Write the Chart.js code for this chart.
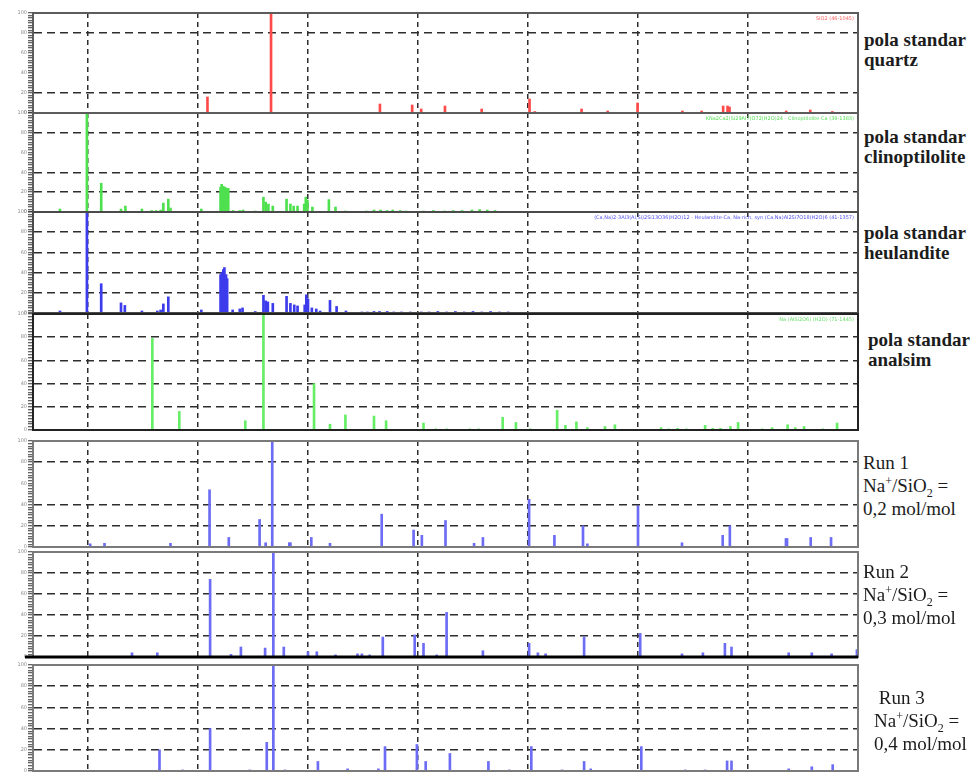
<!DOCTYPE html>
<html>
<head>
<meta charset="utf-8">
<script src="https://cdn.jsdelivr.net/npm/chart.js@4/dist/chart.umd.min.js"></script>
<style>
  html, body { margin: 0; padding: 0; background: #fff; }
  body { position: relative; width: 976px; height: 772px; overflow: hidden; }
  canvas { position: absolute; left: 0; }
  .lbl { position: absolute; font-family: "Liberation Serif", "DejaVu Serif", serif; color: #1c1c1c; white-space: nowrap; }
  .std { font-size: 19px; font-weight: bold; line-height: 20px; }
  .run { font-size: 19px; line-height: 23px; }
  .lbl sup, .lbl sub { font-size: 12px; line-height: 0; }
</style>
</head>
<body>

<canvas id="pQuartz" width="862" height="108" style="top:9px"></canvas>
<canvas id="pClino" width="862" height="107" style="top:109px"></canvas>
<canvas id="pHeul" width="862" height="109" style="top:208px"></canvas>
<canvas id="pAnal" width="862" height="124" style="top:310px"></canvas>
<canvas id="pRun1" width="862" height="114" style="top:437px"></canvas>
<canvas id="pRun2" width="862" height="113" style="top:548px"></canvas>
<canvas id="pRun3" width="862" height="114" style="top:661px"></canvas>

<div class="lbl std" style="left:864px;top:30px">pola standar<br>quartz</div>
<div class="lbl std" style="left:864px;top:127px">pola standar<br>clinoptilolite</div>
<div class="lbl std" style="left:864px;top:223px">pola standar<br>heulandite</div>
<div class="lbl std" style="left:868px;top:330px">pola standar<br>analsim</div>
<div class="lbl run" style="left:863px;top:451px">Run 1<br>Na<sup>+</sup>/SiO<sub>2</sub> =<br>0,2 mol/mol</div>
<div class="lbl run" style="left:863px;top:560px">Run 2<br>Na<sup>+</sup>/SiO<sub>2</sub> =<br>0,3 mol/mol</div>
<div class="lbl run" style="left:874px;top:686px">&nbsp;Run 3<br>Na<sup>+</sup>/SiO<sub>2</sub> =<br>0,4 mol/mol</div>

<script>
// 2-theta axis (degrees) and intensity axis (%)
const twoThetaMin = 5;
const twoThetaMax = 80;
const twoThetaGrid = [10, 20, 30, 40, 50, 60, 70];
const intensityLabels = [0, 20, 40, 60, 80, 100];

// Reference pattern: quartz
const quartzPos = [20.86, 26.64, 36.54, 39.47, 40.29, 42.45, 45.79, 50.14, 50.62, 54.87, 57.24, 59.96, 64.03, 65.79, 67.74, 68.14, 68.32, 73.47, 75.66, 77.67];
const quartzInt = [16, 100, 9, 8, 4, 7, 4, 14, 1.5, 4, 2, 10, 2, 2, 7, 7, 6, 2, 3, 1.5];

// Reference pattern: clinoptilolite
const clinoPos = [7.45, 9.9, 11.2, 13.0, 13.4, 14.9, 15.8, 16.2, 16.6, 16.85, 17.3, 17.5, 20.3, 22.05, 22.15, 22.3, 22.45, 22.6, 22.75, 23.2, 23.8, 24.1, 25.2, 25.95, 26.15, 26.4, 26.8, 28.05, 28.4, 28.7, 29.05, 29.65, 29.8, 29.95, 30.4, 31.9, 32.5, 33.4, 35.3, 36.0, 36.6, 37.2, 37.7, 38.4, 38.9, 40.5, 41.4, 42.4, 43.2, 44.0, 44.9, 45.6, 46.3, 47.0];
const clinoInt = [3, 100, 29, 3, 6, 3, 1.5, 1.5, 2, 9, 13, 4, 3, 25, 28, 26, 25, 24, 24, 1.5, 1.5, 2, 1, 15, 10, 8, 6, 13, 8, 6, 6, 8, 15, 12, 5, 12.5, 5, 1, 1, 2, 2, 1.5, 2, 1.5, 1, 1, 1.5, 1, 1.5, 1.5, 2, 2.5, 2, 1.5];

// Reference pattern: heulandite
const heulPos = [7.45, 9.9, 11.2, 13.0, 13.35, 14.9, 16.3, 16.6, 16.85, 17.3, 20.3, 22.05, 22.15, 22.3, 22.4, 22.55, 22.65, 23.15, 23.8, 24.05, 25.2, 25.95, 26.15, 26.35, 26.8, 28.05, 28.4, 28.75, 29.05, 29.7, 29.85, 30.0, 30.35, 30.75, 31.1, 32.0, 32.6, 33.45, 34.9, 35.4, 36.0, 36.5, 37.2, 37.8, 38.5, 39.3, 40.3, 41.0, 41.8, 42.6, 43.4, 44.2, 45.0, 45.8, 46.6, 47.4, 48.2];
const heulInt = [2, 100, 29, 10, 7.5, 2, 2, 3, 9, 16, 3, 38, 40, 43, 45, 38, 34, 3, 4, 5, 1.5, 17.5, 12, 11, 9.5, 16.5, 9.5, 8, 7, 8, 18, 14, 5, 4, 2, 12.5, 6.5, 2, 1, 1, 1.5, 1.5, 1.5, 1, 1, 1, 1, 1, 1.5, 1, 1.5, 1, 1.5, 1, 1.5, 1, 1];

// Reference pattern: analcime
const analPos = [15.85, 18.3, 24.3, 25.95, 30.55, 32.0, 33.4, 36.0, 37.1, 40.5, 41.6, 42.6, 44.7, 45.5, 47.7, 48.9, 50.2, 52.65, 53.4, 54.4, 55.4, 57.0, 57.9, 62.1, 62.8, 63.6, 64.4, 66.1, 66.8, 67.5, 68.4, 69.1, 71.3, 72.2, 73.6, 74.3, 75.1, 76.8, 78.1];
const analInt = [79, 16, 8, 100, 40, 5, 13, 12, 8, 6, 1, 1, 1, 1, 11, 6.5, 1, 17, 4, 7, 2, 3, 4.5, 2, 1, 1.5, 1, 4, 1.5, 1.5, 3, 6.5, 1, 2, 4.5, 2, 3, 1, 6];

// Synthesis products
const run1Pos = [10.2, 11.5, 17.5, 21.05, 22.8, 25.6, 26.15, 26.75, 28.3, 28.4, 30.3, 32.0, 36.7, 39.6, 40.35, 42.5, 45.1, 45.9, 50.1, 52.4, 55.0, 55.4, 60.0, 64.0, 67.7, 68.35, 73.45, 73.55, 75.7, 77.55];
const run1Int = [3, 3.5, 3.5, 54, 9, 26, 4, 100, 4, 4, 9, 3.5, 31, 16, 11, 25, 3.5, 9, 45, 11, 20, 3, 39, 4, 11, 20, 8, 8, 9, 9];

const run2Pos = [14.0, 16.3, 21.1, 23.0, 23.9, 26.1, 26.85, 27.8, 30.0, 30.8, 32.5, 34.5, 34.9, 35.6, 36.8, 39.7, 40.5, 41.7, 42.6, 45.9, 50.1, 50.9, 51.6, 55.1, 60.2, 64.0, 65.9, 67.9, 68.5, 73.7, 75.8, 77.6, 79.9];
const run2Int = [4, 4, 74, 2.5, 9.5, 8.5, 100, 9.5, 5, 5, 2, 3, 3, 2, 19, 21, 13, 2, 42.5, 6, 13, 4, 3, 19, 22.5, 3, 4, 13, 9.5, 4, 4, 3, 7];

const run3Pos = [16.5, 18.6, 21.1, 24.7, 26.25, 26.85, 27.9, 30.9, 33.6, 36.4, 37.0, 39.9, 40.7, 42.9, 46.4, 48.3, 50.3, 53.1, 55.1, 55.7, 60.3, 64.3, 66.1, 68.1, 68.5, 73.7, 75.8, 77.7];
const run3Int = [20, 1, 40, 1, 27, 100, 1, 9, 2, 2, 23, 25, 9, 16.5, 9, 1, 23, 1, 9, 2, 23, 1, 1, 9.5, 9.5, 2, 4, 6];

// Frame, baseline and card-reference caption drawn round each plot area
const framePlugin = {
  id: 'frame',
  afterDatasetsDraw(chart, args, opts) {
    const { ctx, chartArea: a } = chart;
    ctx.save();
    ctx.strokeStyle = opts.color;
    ctx.lineWidth = opts.width;
    ctx.strokeRect(a.left, a.top, a.right - a.left, a.bottom - a.top);
    if (opts.baseWidth) {
      ctx.beginPath();
      ctx.lineWidth = opts.baseWidth;
      ctx.strokeStyle = '#000';
      ctx.moveTo(a.left - 8, a.bottom);
      ctx.lineTo(a.right, a.bottom);
      ctx.stroke();
    }
    if (opts.tag) {
      ctx.font = '5px "DejaVu Sans"';
      ctx.fillStyle = opts.tagColor;
      ctx.textAlign = 'right';
      ctx.textBaseline = 'top';
      ctx.fillText(opts.tag, a.right - 4, a.top + 3);
    }
    ctx.restore();
  }
};

function makePanel(id, pos, inten, color, gridVals, frame) {
  const points = pos.map((p, i) => ({ x: p, y: inten[i] }));
  return new Chart(document.getElementById(id), {
    type: 'bar',
    data: {
      datasets: [{
        data: points,
        backgroundColor: color,
        borderWidth: 0,
        barThickness: 2
      }]
    },
    plugins: [framePlugin],
    options: {
      responsive: false,
      animation: false,
      layout: { padding: { top: 4, bottom: 4, left: 0, right: 4 } },
      plugins: {
        legend: { display: false },
        tooltip: { enabled: false },
        frame: frame
      },
      scales: {
        x: {
          type: 'linear',
          min: twoThetaMin,
          max: twoThetaMax,
          offset: false,
          afterFit: s => { s.height = 0; },
          ticks: { display: false, stepSize: 10 },
          grid: {
            offset: false,
            drawTicks: false,
            lineWidth: 1.5,
            color: c => (c.tick && twoThetaGrid.includes(c.tick.value)) ? '#2e2e2e' : 'rgba(0,0,0,0)'
          },
          border: { display: false, dash: [5, 4] }
        },
        y: {
          min: 0,
          max: 100,
          afterFit: s => { s.width = 33; },
          ticks: {
            stepSize: 2.5,
            autoSkip: false,
            padding: 1,
            color: '#8a8a8a',
            font: { size: 5, family: 'DejaVu Sans' },
            callback: v => intensityLabels.includes(v) ? String(v) : ''
          },
          grid: {
            drawTicks: true,
            tickLength: 5,
            tickWidth: 1,
            tickColor: '#333',
            lineWidth: 1.5,
            color: c => (c.tick && gridVals.includes(c.tick.value)) ? '#2e2e2e' : 'rgba(0,0,0,0)'
          },
          border: { display: true, color: '#333', width: 2, dash: [8, 5] }
        }
      }
    }
  });
}

makePanel('pQuartz', quartzPos, quartzInt, '#ff4a4a', [20, 80],
  { color: '#5c5c5c', width: 2, tag: 'SiO2 (46-1045)', tagColor: '#ff6060' });
makePanel('pClino', clinoPos, clinoInt, '#4fe04f', [20, 40, 80],
  { color: '#5c5c5c', width: 2, tag: 'KNa2Ca2(Si29Al7)O72(H2O)24 - Clinoptilolite-Ca (39-1383)', tagColor: '#55dd55' });
makePanel('pHeul', heulPos, heulInt, '#3c3cec', [20, 40, 60, 80],
  { color: '#4a4a4a', width: 2, tag: '(Ca,Na)2-3Al3(Al,Si)2Si13O36(H2O)12 - Heulandite-Ca, Na-rich, syn (Ca,Na)Al2Si7O18(H2O)6 (41-1357)', tagColor: '#5050ee' });
makePanel('pAnal', analPos, analInt, '#66ee66', [20, 40, 60, 80],
  { color: '#222', width: 2, tag: 'Na (AlSi2O6) (H2O) (71-1445)', tagColor: '#66dd66' });
makePanel('pRun1', run1Pos, run1Int, '#6c6cf4', [20, 40, 80],
  { color: '#7a7a7a', width: 2 });
makePanel('pRun2', run2Pos, run2Int, '#6c6cf4', [20, 40, 60, 80],
  { color: '#7a7a7a', width: 2, baseWidth: 3 });
makePanel('pRun3', run3Pos, run3Int, '#6c6cf4', [20, 40, 60, 80],
  { color: '#7a7a7a', width: 2 });
</script>
</body>
</html>
